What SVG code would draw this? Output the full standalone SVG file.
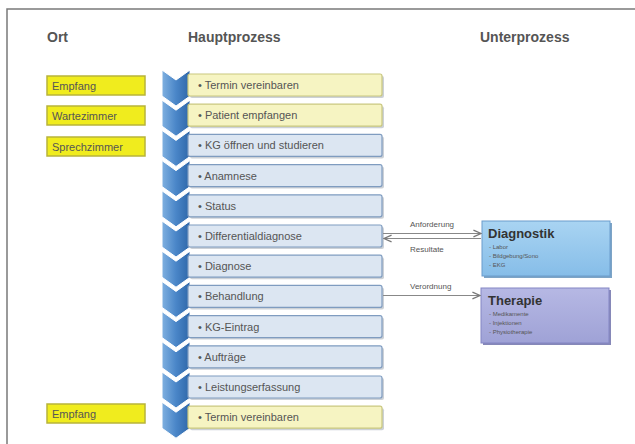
<svg xmlns="http://www.w3.org/2000/svg" width="635" height="444" viewBox="0 0 635 444">
<defs>
<linearGradient id="chev" x1="0" y1="0" x2="1" y2="0">
<stop offset="0" stop-color="#7fb0e0"/><stop offset="0.5" stop-color="#4a86c8"/><stop offset="1" stop-color="#2e66a8"/>
</linearGradient>
<linearGradient id="diag" x1="0" y1="0" x2="0" y2="1">
<stop offset="0" stop-color="#a9d4f2"/><stop offset="1" stop-color="#86bde8"/>
</linearGradient>
<linearGradient id="ther" x1="0" y1="0" x2="0" y2="1">
<stop offset="0" stop-color="#b6b8e4"/><stop offset="1" stop-color="#9fa2d6"/>
</linearGradient>
<marker id="arr" viewBox="0 0 10 10" refX="9" refY="5" markerWidth="7" markerHeight="7" orient="auto">
<path d="M0,1 L9,5 L0,9" fill="none" stroke="#777" stroke-width="1.5"/>
</marker>
<g id="chevshape"><path d="M0,0 L14,10 L28,0 L28,26 L14,36 L0,26 Z" fill="url(#chev)" stroke="#ffffff" stroke-width="1"/></g>
</defs>
<style>
.hdr{font-family:"Liberation Sans",Arial,sans-serif;font-weight:bold;font-size:14px;fill:#555}
.ort rect{fill:#f0ec1e;stroke:#b8b43a;stroke-width:1.5}
.ort text{font-family:"Liberation Sans",Arial,sans-serif;font-size:11px;fill:#555}
.bx{stroke-width:1.2}
.yel .bx{fill:#f6f4c2;stroke:#c9c77e}
.blu .bx{fill:#dce6f2;stroke:#7f9cc0}
.sh{fill:#9aa4b0;opacity:0.5}
.step text{font-family:"Liberation Sans",Arial,sans-serif;font-size:11px;fill:#555}
.lbl{font-family:"Liberation Sans",Arial,sans-serif;font-size:8px;fill:#555}
.ttl{font-family:"Liberation Sans",Arial,sans-serif;font-weight:bold;font-size:13px;fill:#333}
.itm{font-family:"Liberation Sans",Arial,sans-serif;font-size:6px;fill:#555}
.con{stroke:#888;stroke-width:1.2;fill:none}
</style>
<rect width="635" height="444" fill="#ffffff"/>
<path d="M7,444 L7,9 L635,9" fill="none" stroke="#7a7a7a" stroke-width="1.5"/>

<text class="hdr" x="47" y="42">Ort</text>
<text class="hdr" x="188" y="42">Hauptprozess</text>
<text class="hdr" x="480" y="42">Unterprozess</text>

<g id="ort-empfang" class="ort"><rect x="47" y="76" width="98" height="19"/><text x="52" y="89.5">Empfang</text></g>
<g id="ort-wartezimmer" class="ort"><rect x="47" y="106" width="98" height="19"/><text x="52" y="119.5">Wartezimmer</text></g>
<g id="ort-sprechzimmer" class="ort"><rect x="47" y="137" width="98" height="19"/><text x="52" y="150.5">Sprechzimmer</text></g>
<g id="ort-empfang2" class="ort"><rect x="47" y="404" width="98" height="19"/><text x="52" y="417.5">Empfang</text></g>

<g id="chevrons">
<use href="#chevshape" x="162" y="70"/>
<use href="#chevshape" x="162" y="100.2"/>
<use href="#chevshape" x="162" y="130.4"/>
<use href="#chevshape" x="162" y="160.6"/>
<use href="#chevshape" x="162" y="190.8"/>
<use href="#chevshape" x="162" y="221"/>
<use href="#chevshape" x="162" y="251.2"/>
<use href="#chevshape" x="162" y="281.4"/>
<use href="#chevshape" x="162" y="311.6"/>
<use href="#chevshape" x="162" y="341.8"/>
<use href="#chevshape" x="162" y="372"/>
<use href="#chevshape" x="162" y="402.2"/>
</g>

<g id="s1" class="step yel"><rect class="sh" x="190" y="76" width="194" height="22" rx="2"/><rect class="bx" x="188" y="74" width="194" height="22" rx="2"/><text x="198" y="89">•  Termin vereinbaren</text></g>
<g id="s2" class="step yel"><rect class="sh" x="190" y="106.2" width="194" height="22" rx="2"/><rect class="bx" x="188" y="104.2" width="194" height="22" rx="2"/><text x="198" y="119.2">•  Patient empfangen</text></g>
<g id="s3" class="step blu"><rect class="sh" x="190" y="136.4" width="194" height="22" rx="2"/><rect class="bx" x="188" y="134.4" width="194" height="22" rx="2"/><text x="198" y="149.4">•  KG öffnen und studieren</text></g>
<g id="s4" class="step blu"><rect class="sh" x="190" y="166.6" width="194" height="22" rx="2"/><rect class="bx" x="188" y="164.6" width="194" height="22" rx="2"/><text x="198" y="179.6">•  Anamnese</text></g>
<g id="s5" class="step blu"><rect class="sh" x="190" y="196.8" width="194" height="22" rx="2"/><rect class="bx" x="188" y="194.8" width="194" height="22" rx="2"/><text x="198" y="209.8">•  Status</text></g>
<g id="s6" class="step blu"><rect class="sh" x="190" y="227" width="194" height="22" rx="2"/><rect class="bx" x="188" y="225" width="194" height="22" rx="2"/><text x="198" y="240">•  Differentialdiagnose</text></g>
<g id="s7" class="step blu"><rect class="sh" x="190" y="257.2" width="194" height="22" rx="2"/><rect class="bx" x="188" y="255.2" width="194" height="22" rx="2"/><text x="198" y="270.2">•  Diagnose</text></g>
<g id="s8" class="step blu"><rect class="sh" x="190" y="287.4" width="194" height="22" rx="2"/><rect class="bx" x="188" y="285.4" width="194" height="22" rx="2"/><text x="198" y="300.4">•  Behandlung</text></g>
<g id="s9" class="step blu"><rect class="sh" x="190" y="317.6" width="194" height="22" rx="2"/><rect class="bx" x="188" y="315.6" width="194" height="22" rx="2"/><text x="198" y="330.6">•  KG-Eintrag</text></g>
<g id="s10" class="step blu"><rect class="sh" x="190" y="347.8" width="194" height="22" rx="2"/><rect class="bx" x="188" y="345.8" width="194" height="22" rx="2"/><text x="198" y="360.8">•  Aufträge</text></g>
<g id="s11" class="step blu"><rect class="sh" x="190" y="378" width="194" height="22" rx="2"/><rect class="bx" x="188" y="376" width="194" height="22" rx="2"/><text x="198" y="391">•  Leistungserfassung</text></g>
<g id="s12" class="step yel"><rect class="sh" x="190" y="408.2" width="194" height="22" rx="2"/><rect class="bx" x="188" y="406.2" width="194" height="22" rx="2"/><text x="198" y="421.2">•  Termin vereinbaren</text></g>

<g id="diagnostik">
<rect x="484" y="223" width="128" height="55" fill="#7da4c6"/>
<rect x="482" y="221" width="128" height="55" fill="url(#diag)" stroke="#6b9ccc" stroke-width="1"/>
<text class="ttl" x="488" y="238">Diagnostik</text>
<text class="itm" x="489" y="249">- Labor</text>
<text class="itm" x="489" y="258">- Bildgebung/Sono</text>
<text class="itm" x="489" y="267">- EKG</text>
</g>
<g id="therapie">
<rect x="483" y="290" width="128" height="55" fill="#8688b8"/>
<rect x="481" y="288" width="128" height="55" fill="url(#ther)" stroke="#8385c4" stroke-width="1"/>
<text class="ttl" x="488" y="305">Therapie</text>
<text class="itm" x="489" y="316">- Medikamente</text>
<text class="itm" x="489" y="325">- Injektionen</text>
<text class="itm" x="489" y="334">- Physiotherapie</text>
</g>

<g id="connectors">
<line class="con" x1="383" y1="233.5" x2="481" y2="233.5" marker-end="url(#arr)"/>
<line class="con" x1="481" y1="238.5" x2="384" y2="238.5" marker-end="url(#arr)"/>
<line class="con" x1="383" y1="295.5" x2="480" y2="295.5" marker-end="url(#arr)"/>
<text class="lbl" x="410" y="227">Anforderung</text>
<text class="lbl" x="410" y="252">Resultate</text>
<text class="lbl" x="410" y="289">Verordnung</text>
</g>
</svg>
